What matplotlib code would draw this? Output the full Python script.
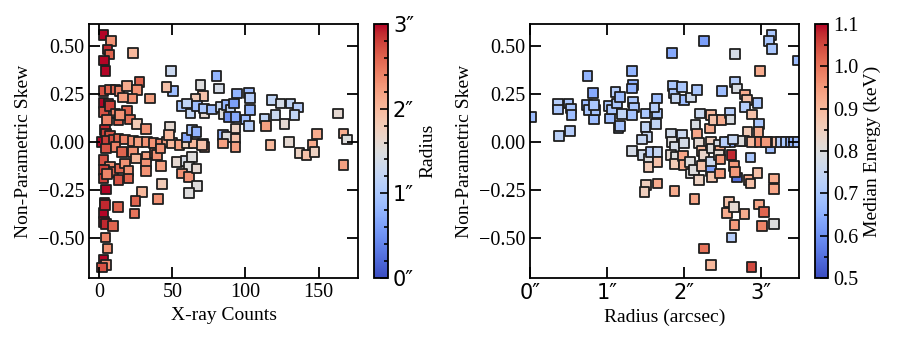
import numpy as np
import matplotlib
matplotlib.use('Agg')
import matplotlib.pyplot as plt
from matplotlib.ticker import MultipleLocator

# left panel: X-ray counts vs skew, coloured by radius (arcsec)
counts = [3.0, 8.2, 5.7, 7.1, 3.4, 4.3, 23.1, 3.0, 7.5, 11.0, 13.9, 18.9, 27.6, 25.8, 22.4, 16.2, 34.9,
          3.0, 6.4, 3.4, 7.5, 11.0, 5.3, 13.2, 18.9, 21.2, 25.8, 32.0, 14.4, 4.1, 4.8, 7.5, 1.8, 5.3,
          9.8, 13.2, 17.8, 23.1, 26.9, 32.6, 37.2, 41.8, 46.3, 49.8, 55.0, 60.0, 64.6, 71.0, 71.9,
          4.8, 11.0, 15.5, 23.1, 25.3, 32.2, 37.7, 39.5, 32.0, 32.0, 42.2, 41.8, 3.0, 7.5, 3.4, 9.8,
          14.4, 17.8, 20.1, 13.2, 20.1, 3.0, 5.3, 4.8, 29.2, 42.9, 24.7, 12.8, 40.0, 24.0, 3.7, 3.0,
          4.1, 3.4, 4.8, 9.4, 4.3, 5.7, 3.0, 4.8, 1.8,
          49.1, 50.5, 45.9, 69.2, 71.0, 65.8, 81.7, 80.1, 94.3, 102.3, 103.0, 56.6, 60.0, 62.3, 66.9,
          71.9, 71.5, 77.2, 82.9, 85.2, 87.4, 89.7, 92.0, 88.6, 93.2, 100.0, 103.0, 102.3, 113.0,
          118.3, 124.0, 130.8, 135.8, 120.5, 133.6, 126.7, 114.2, 163.2, 48.2, 47.5, 59.6, 63.5, 66.4,
          70.3, 84.7, 87.4, 93.2, 93.2, 84.7, 93.2, 117.1, 129.9, 149.1, 137.0, 141.8, 145.7, 147.3,
          166.9, 169.6, 166.9, 53.2, 58.9, 63.5, 61.2, 56.6, 61.2, 66.9, 61.2, 66.4]
skew_l = [0.556, 0.526, 0.481, 0.455, 0.425, 0.370, 0.464, 0.264, 0.273, 0.273, 0.264, 0.290, 0.311,
          0.269, 0.226, 0.231, 0.226, 0.203, 0.200, 0.156, 0.186, 0.148, 0.113, 0.113, 0.161, 0.116,
          0.092, 0.068, 0.139, 0.061, 0.043, 0.030, 0.0, 0.005, 0.009, 0.017, 0.012, 0.005, 0.0, 0.0,
          -0.005, -0.012, 0.0, -0.005, -0.017, -0.005, -0.009, -0.012, -0.026, -0.035, -0.026, -0.052,
          -0.052, -0.087, -0.078, -0.057, -0.069, -0.116, -0.151, -0.125, -0.035, -0.095, -0.130,
          -0.148, -0.156, -0.139, -0.113, -0.151, -0.200, -0.191, -0.191, -0.168, -0.248, -0.260,
          -0.220, -0.309, -0.339, -0.299, -0.373, -0.318, -0.370, -0.330, -0.417, -0.429, -0.439,
          -0.498, -0.556, -0.616, -0.642, -0.655,
          0.370, 0.264, 0.286, 0.295, 0.238, 0.222, 0.278, 0.342, 0.252, 0.255, 0.229, 0.186, 0.200,
          0.148, 0.186, 0.151, 0.174, 0.168, 0.182, 0.144, 0.191, 0.168, 0.200, 0.130, 0.130, 0.116,
          0.165, 0.082, 0.122, 0.217, 0.200, 0.200, 0.179, 0.139, 0.139, 0.092, 0.082, 0.148, 0.078,
          0.035, 0.023, 0.061, 0.052, -0.017, 0.035, 0.026, 0.069, 0.017, -0.009, -0.026, -0.017, 0.0,
          0.040, -0.057, -0.069, -0.017, -0.052, 0.043, 0.012, -0.122, -0.104, -0.099, -0.078, -0.130,
          -0.165, -0.182, -0.229, -0.266, -0.139]
radius_l = [3.0, 2.3, 2.9, 2.6, 3.0, 3.0, 2.0, 2.7, 2.6, 2.6, 2.4, 2.1, 2.6, 2.3, 2.3, 2.2, 2.2,
            3.0, 2.8, 2.7, 2.8, 2.4, 2.4, 2.6, 2.6, 2.5, 1.8, 2.3, 2.3, 2.9, 2.8, 2.7, 3.0, 2.8,
            2.7, 2.6, 2.4, 2.3, 2.2, 2.3, 2.3, 2.4, 2.2, 2.0, 2.2, 1.7, 2.0, 2.0, 2.3,
            2.7, 2.4, 2.6, 2.3, 2.0, 2.2, 2.5, 2.3, 2.3, 2.3, 2.2, 2.3, 2.7, 2.3, 2.8, 2.6,
            2.6, 2.3, 2.3, 2.7, 2.6, 2.8, 2.4, 3.0, 2.0, 1.8, 2.6, 2.6, 2.3, 2.5, 3.0, 3.0,
            2.9, 3.0, 2.9, 2.6, 2.4, 2.3, 3.0, 2.3, 2.7,
            1.3, 0.9, 1.9, 1.5, 1.9, 1.8, 1.4, 0.8, 0.8, 0.9, 1.1, 1.0, 1.2, 1.2, 0.9,
            1.6, 1.0, 0.9, 1.3, 1.5, 0.8, 1.2, 0.6, 0.5, 0.7, 0.9, 0.8, 1.1, 1.2,
            1.2, 1.4, 1.2, 1.1, 1.3, 1.2, 1.6, 2.2, 1.6, 1.6, 2.0, 0.7, 1.0, 0.8,
            1.9, 0.8, 1.5, 1.7, 1.9, 2.2, 2.2, 2.0, 1.6, 2.1, 1.7, 1.9, 2.1, 1.7,
            2.1, 1.5, 2.2, 1.6, 1.4, 1.5, 1.5, 2.3, 2.3, 1.5, 1.5, 1.6]

# right panel: radius vs skew, coloured by median energy (keV)
radius_r = [0.02, 0.36, 0.36, 0.38, 0.52, 0.50, 0.53, 0.54, 0.75, 0.74, 0.76, 0.82, 0.83, 0.85, 0.83,
            1.03, 1.04, 1.07, 1.11, 1.13, 1.17, 1.15, 1.17, 1.20, 1.33, 1.34, 1.33, 1.34, 1.35, 1.33,
            1.33, 1.50, 1.50, 1.52, 1.46, 1.47, 1.54, 1.54, 1.57, 1.65, 1.65, 1.62, 1.64, 1.66, 1.66,
            1.51, 1.49, 1.66, 1.85, 2.26, 1.86, 1.87, 1.98, 2.00, 1.89, 2.09, 2.17, 2.21, 1.83, 1.85,
            1.88, 1.83, 1.90, 1.98, 2.00, 1.88, 1.99, 2.00, 2.08, 2.09, 2.15, 2.17, 2.20, 2.13, 2.20,
            2.23, 2.24, 2.26, 2.35, 2.34, 2.39, 2.35, 2.37, 2.35, 2.35, 2.37, 2.46, 2.47, 2.46, 2.48,
            2.47, 2.49, 1.88, 2.14, 2.50, 2.60, 2.61, 2.60, 2.62, 2.65, 2.69, 2.67, 2.67, 2.67, 2.69,
            2.80, 2.82, 2.80, 2.89, 2.83, 2.78, 2.73, 2.87, 2.85, 2.87, 2.96, 2.96, 2.98, 2.97, 2.89,
            2.99, 2.99, 3.13, 3.17, 3.17, 3.17, 3.14, 3.11, 3.15, 3.48, 2.59, 2.56, 2.65, 2.79, 2.66,
            2.62, 2.98, 3.04, 3.02, 3.17, 2.26, 2.35, 2.88, 3.26, 3.33, 3.39, 3.43, 3.48, 3.09, 3.07,
            2.54, 2.64]
skew_r = [0.130, 0.196, 0.168, 0.030, 0.057, 0.200, 0.174, 0.139, 0.342, 0.191, 0.165, 0.255, 0.116,
          0.165, 0.191, 0.186, 0.122, 0.168, 0.260, 0.200, 0.234, 0.069, 0.082, 0.144, 0.370, 0.295,
          0.278, 0.208, 0.179, 0.139, -0.047, 0.148, 0.078, 0.026, 0.012, -0.069, -0.087, -0.130,
          -0.052, 0.148, 0.226, 0.179, 0.092, -0.052, -0.104, -0.226, -0.260, -0.217, 0.464, 0.526,
          0.290, 0.252, 0.286, 0.220, 0.226, 0.231, 0.269, 0.148, 0.043, 0.0, -0.026, -0.069, -0.078,
          0.035, -0.005, -0.116, -0.075, -0.122, -0.104, -0.165, 0.087, 0.040, -0.005, -0.148, -0.200,
          -0.047, -0.127, -0.069, 0.139, 0.069, 0.113, 0.0, -0.035, -0.104, -0.151, -0.182, -0.017,
          -0.047, -0.069, -0.092, -0.165, 0.113, -0.255, -0.299, 0.266, 0.151, 0.116, 0.0, -0.069,
          -0.127, -0.186, -0.156, 0.457, 0.313, 0.278, 0.248, 0.217, 0.182, 0.142, 0.052, 0.005, 0.005,
          -0.082, -0.200, -0.217, -0.161, 0.203, 0.092, 0.052, 0.0, 0.0, 0.370, -0.035, -0.191, -0.247,
          0.0, 0.556, 0.526, 0.483, 0.425, -0.313, -0.370, -0.339, -0.377, -0.434, -0.498, -0.326,
          -0.365, -0.439, -0.429, -0.556, -0.642, -0.651, 0.0, 0.0, 0.0, 0.0, 0.0, 0.0, 0.0, 0.0, 0.012]
energy_r = [0.68, 0.72, 0.70, 0.73, 0.72, 0.70, 0.70, 0.68, 0.66, 0.68, 0.70, 0.64, 0.68, 0.69, 0.70,
            0.70, 0.68, 0.70, 0.72, 0.70, 0.68, 0.70, 0.69, 0.74, 0.66, 0.65, 0.66, 0.70, 0.70, 0.69,
            0.78, 0.70, 0.74, 0.75, 0.75, 0.77, 0.80, 0.86, 0.72, 0.70, 0.68, 0.72, 0.74, 0.75, 0.88,
            0.85, 0.85, 0.92, 0.64, 0.62, 0.70, 0.70, 0.70, 0.68, 0.75, 0.77, 0.70, 0.76, 0.77, 0.80,
            0.78, 0.82, 0.80, 0.76, 0.78, 0.86, 0.93, 0.92, 0.80, 0.80, 0.79, 0.93, 0.82, 0.80, 0.84,
            0.90, 0.88, 0.83, 0.90, 0.92, 0.88, 0.85, 0.80, 0.76, 0.62, 0.87, 0.78, 0.92, 0.82, 0.95,
            0.95, 0.92, 0.92, 0.93, 0.68, 0.72, 0.79, 0.65, 1.08, 0.95, 0.55, 0.95, 0.78, 0.72, 0.79,
            0.92, 0.88, 0.72, 0.88, 0.86, 0.78, 0.80, 0.70, 0.92, 0.88, 0.88, 0.70, 0.70, 0.92, 0.90,
            0.98, 0.92, 0.68, 0.92, 0.93, 0.88, 0.70, 0.70, 0.70, 0.68, 0.88, 0.92, 0.82, 0.92, 0.95,
            0.72, 0.93, 1.02, 0.98, 0.80, 1.00, 0.90, 1.05, 0.72, 0.70, 0.66, 0.65, 0.68, 0.85, 0.95,
            0.72, 0.75]

serif = 'Liberation Serif'
plt.rcParams['font.family'] = serif
fs = 14      # axis labels
tfs = 14.5   # tick labels

fig = plt.figure(figsize=(9, 3.42), dpi=100)
ax1 = fig.add_axes([0.0989, 0.187, 0.299, 0.743])
cax1 = fig.add_axes([0.4156, 0.187, 0.0156, 0.743])
ax2 = fig.add_axes([0.5889, 0.187, 0.299, 0.743])
cax2 = fig.add_axes([0.9056, 0.187, 0.0144, 0.743])

sc1 = ax1.scatter(counts, skew_l, c=radius_l, cmap='coolwarm', vmin=0, vmax=3, marker='s', s=48,
                  edgecolors='0.12', linewidths=1.3)
sc2 = ax2.scatter(radius_r, skew_r, c=energy_r, cmap='coolwarm', vmin=0.5, vmax=1.1, marker='s', s=48,
                  edgecolors='0.12', linewidths=1.3)

for ax in (ax1, ax2):
    ax.set_ylim(-0.71, 0.615)
    ax.set_yticks([-0.5, -0.25, 0, 0.25, 0.5])
    ax.set_yticklabels(['\u22120.50', '\u22120.25', '0.00', '0.25', '0.50'])
    ax.tick_params(direction='in', top=True, right=True, length=8, width=1.3, labelsize=tfs)
    ax.set_ylabel('Non-Parametric Skew', fontsize=fs)
    for sp in ax.spines.values():
        sp.set_linewidth(1.3)

ax1.set_xlim(-7, 177)
ax1.set_xticks([0, 50, 100, 150])
ax1.set_xlabel('X-ray Counts', fontsize=fs)

ax2.set_xlim(0, 3.5)
ax2.set_xticks([0, 1, 2, 3])
ax2.set_xticklabels(['0\u2033', '1\u2033', '2\u2033', '3\u2033'], family='DejaVu Sans', fontsize=15)
ax2.set_xlabel('Radius (arcsec)', fontsize=fs)

cb1 = fig.colorbar(sc1, cax=cax1)
cb1.set_ticks([0, 1, 2, 3])
cb1.set_ticklabels(['0\u2033', '1\u2033', '2\u2033', '3\u2033'], family='DejaVu Sans', fontsize=15)
cax1.yaxis.set_minor_locator(MultipleLocator(0.2))
cb1.set_label('Radius', fontsize=fs)

cb2 = fig.colorbar(sc2, cax=cax2)
cb2.set_ticks([0.5, 0.6, 0.7, 0.8, 0.9, 1.0, 1.1])
cax2.yaxis.set_minor_locator(MultipleLocator(0.05))
cb2.set_label('Median Energy (keV)', fontsize=fs)

for cb in (cb1, cb2):
    cb.ax.tick_params(which='both', direction='in', width=1.2)
    cb.ax.tick_params(which='major', length=6)
    cb.ax.tick_params(which='minor', length=3)
    cb.outline.set_linewidth(1.3)
cb2.ax.tick_params(labelsize=tfs)

fig.savefig('out.png', dpi=100)
